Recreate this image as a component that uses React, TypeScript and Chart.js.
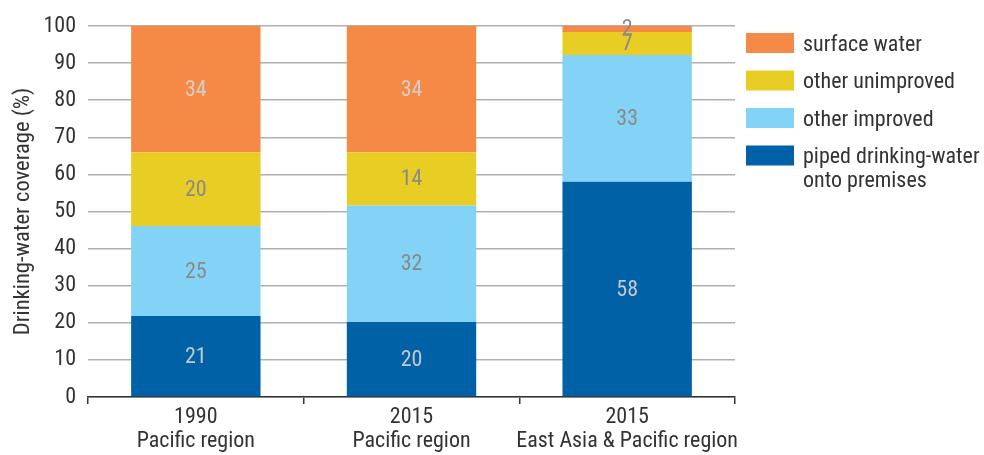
import React, { useEffect, useRef } from "react";
import { Chart, registerables } from "chart.js";

Chart.register(...registerables);

const categories: string[][] = [
  ["1990", "Pacific region"],
  ["2015", "Pacific region"],
  ["2015", "East Asia & Pacific region"],
];

const piped = [21.8, 20.2, 58.0];
const otherImproved = [24.3, 31.4, 34.2];
const otherUnimproved = [19.9, 14.4, 6.2];
const surfaceWater = [34.0, 34.0, 1.6];

const pipedLabels = [21, 20, 58];
const otherImprovedLabels = [25, 32, 33];
const otherUnimprovedLabels = [20, 14, 7];
const surfaceWaterLabels = [34, 34, 2];

const seriesNames: (string | string[])[] = [
  ["piped drinking-water", "onto premises"],
  "other improved",
  "other unimproved",
  "surface water",
];

const yTicks = { min: 0, max: 100, step: 10 };
const yTitle = "Drinking-water coverage (%)";

const FONT = "'Liberation Sans Narrow', 'Roboto Condensed', 'Arial Narrow', 'DejaVu Sans Condensed', sans-serif";
const TEXT = "#333333";

const colors = ["#0061a6", "#83d3f6", "#e8cd25", "#f58a46"];
const labelColors = ["#c4c8cc", "#8a8a8a", "#8a8a8a", "#d6cdc6"];

const valueLabelPlugin = {
  id: "valueLabels",
  afterDatasetsDraw(chart: any) {
    const ctx = chart.ctx;
    ctx.save();
    ctx.font = `22px ${FONT}`;
    ctx.textAlign = "center";
    ctx.textBaseline = "middle";
    chart.data.datasets.forEach((ds: any, di: number) => {
      const meta = chart.getDatasetMeta(di);
      meta.data.forEach((el: any, i: number) => {
        const txt = ds.valueLabels[i];
        const h = Math.abs(el.base - el.y);
        ctx.fillStyle = h < 12 ? "#8a8a8a" : labelColors[di];
        ctx.fillText(String(txt), el.x, (el.y + el.base) / 2 + 1);
      });
    });
    ctx.restore();
  },
};

const legendPlugin = {
  id: "customLegend",
  afterDraw(chart: any) {
    const ctx = chart.ctx;
    const area = chart.chartArea;
    const x0 = area.right + 11;
    const y0 = area.top + 7;
    const gap = 37.5;
    ctx.save();
    ctx.font = `22px ${FONT}`;
    ctx.textAlign = "left";
    ctx.textBaseline = "middle";
    const n = chart.data.datasets.length;
    for (let k = 0; k < n; k++) {
      const di = n - 1 - k;
      const ds = chart.data.datasets[di];
      const top = y0 + k * gap;
      ctx.fillStyle = ds.backgroundColor;
      ctx.fillRect(x0, top, 48, 20);
      ctx.fillStyle = TEXT;
      const lines = Array.isArray(ds.label) ? ds.label : [ds.label];
      lines.forEach((ln: string, li: number) => {
        ctx.fillText(ln, x0 + 57, top + 12 + li * 24);
      });
    }
    ctx.restore();
  },
};

export default function App() {
  const ref = useRef<HTMLCanvasElement>(null);
  useEffect(() => {
    if (!ref.current) return;
    Chart.defaults.font.family = FONT;
    const values = [piped, otherImproved, otherUnimproved, surfaceWater];
    const vlabels = [pipedLabels, otherImprovedLabels, otherUnimprovedLabels, surfaceWaterLabels];
    const chart = new Chart(ref.current, {
      type: "bar",
      data: {
        labels: categories as any,
        datasets: values.map((v, i) => ({
          label: seriesNames[i] as any,
          data: v,
          backgroundColor: colors[i],
          borderWidth: 0,
          barPercentage: 0.6,
          categoryPercentage: 1,
          valueLabels: vlabels[i],
        })) as any,
      },
      options: {
        animation: false,
        responsive: false,
        layout: { padding: { left: 0, top: 26, right: 249, bottom: 0 } },
        plugins: {
          legend: { display: false },
          tooltip: { enabled: false },
        },
        scales: {
          x: {
            stacked: true,
            grid: {
              offset: true,
              drawOnChartArea: false,
              drawTicks: true,
              tickLength: 7,
              color: TEXT,
              lineWidth: 1.5,
            },
            border: { display: true, color: TEXT, width: 1.5 },
            ticks: {
              color: TEXT,
              padding: 1,
              font: { size: 22, lineHeight: "24px" } as any,
              maxRotation: 0,
              autoSkip: false,
            },
            afterFit(scale: any) {
              scale.height = 58;
            },
          },
          y: {
            stacked: true,
            min: yTicks.min,
            max: yTicks.max,
            grid: { color: "#b0b0b0", lineWidth: 1.5, drawTicks: false },
            border: { display: false },
            ticks: {
              stepSize: yTicks.step,
              color: TEXT,
              padding: 12,
              font: { size: 22 },
            },
            title: {
              display: true,
              text: yTitle,
              color: TEXT,
              font: { size: 22.5, lineHeight: 1.2 },
              padding: { top: 10, bottom: 0 },
            },
            afterFit(scale: any) {
              scale.width = 88;
            },
          },
        },
      },
      plugins: [valueLabelPlugin, legendPlugin],
    } as any);
    return () => chart.destroy();
  }, []);
  return (
    <div style={{ position: "absolute", left: 0, top: 0, width: 984, height: 455, background: "#fff" }}>
      <canvas ref={ref} width={984} height={455} />
    </div>
  );
}
